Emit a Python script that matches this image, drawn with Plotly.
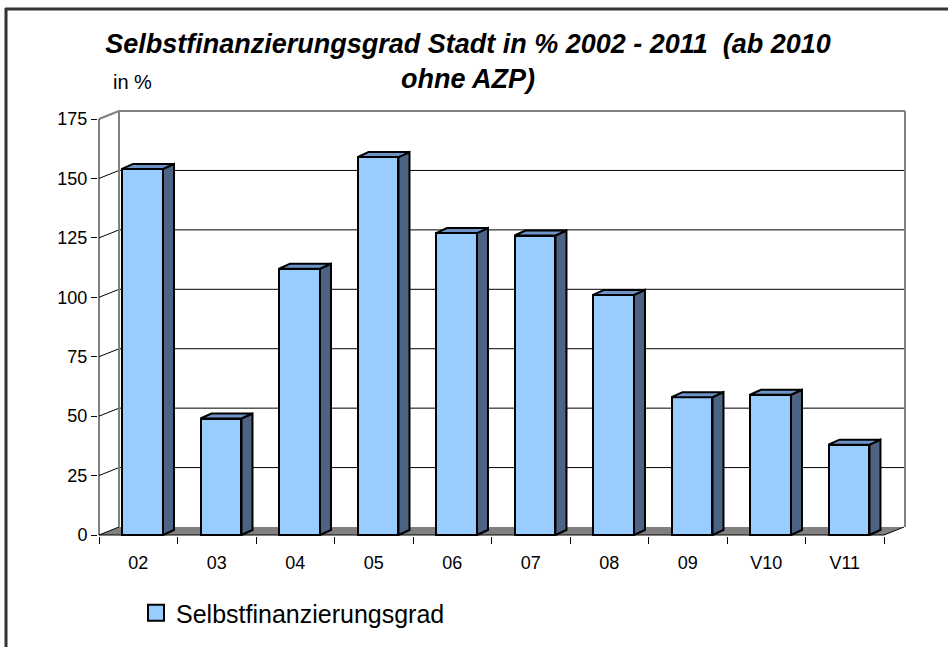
import plotly.graph_objects as go

# ---- data ----
categories = ["02", "03", "04", "05", "06", "07", "08", "09", "V10", "V11"]
values = [154, 49, 112, 159, 127, 126, 101, 58, 59, 38]
y_ticks = [0, 25, 50, 75, 100, 125, 150, 175]
series_name = "Selbstfinanzierungsgrad"
title_text = "Selbstfinanzierungsgrad Stadt in % 2002 - 2011  (ab 2010<br>ohne AZP)"
unit_label = "in %"

# ---- styling / geometry (pixel based) ----
W, H = 948, 647
PPU = 78.5      # px per category unit
PPV = 2.377     # px per value unit
X0PX, Y0PX = 99, 535   # px of origin (front axis)
PL, PR, PT, PB = 98, 907, 109, 536
u_min = (PL - X0PX) / PPU
u_max = (PR - X0PX) / PPU
v_min = (Y0PX - PB) / PPV
v_max = (Y0PX - PT) / PPV

DXW = 20 / PPU   # wall depth offset
DYW = 8 / PPV
DXB = 11 / PPU   # bar depth offset
DYB = 5 / PPV
BAR_L, BAR_R = 0.293, 0.815
BACK_R = (905 - X0PX) / PPU
n = len(categories)

FRONT = "#99CCFF"
SIDE = "#4D6383"
TOP = "#6E93C8"
GRAY = "#808080"
FONT = "Liberation Sans"

def px2paper_x(px):
    return (px - PL) / (PR - PL)

def px2paper_y(py):
    return (PB - py) / (PB - PT)

fig = go.Figure()

centers = [i + (BAR_L + BAR_R) / 2 for i in range(n)]
fig.add_trace(go.Bar(
    x=centers, y=values, width=BAR_R - BAR_L,
    marker=dict(color=FRONT, line=dict(color="black", width=2)),
    showlegend=False, hoverinfo="y", name=series_name,
))

# side faces and top faces computed from the values
sx, sy, tx, ty = [], [], [], []
for i, v in enumerate(values):
    x0, x1 = i + BAR_L, i + BAR_R
    sx += [x1, x1, x1 + DXB, x1 + DXB, x1, None]
    sy += [0, v, v + DYB, DYB, 0, None]
    tx += [x0, x1, x1 + DXB, x0 + DXB, x0, None]
    ty += [v, v, v + DYB, v + DYB, v, None]
fig.add_trace(go.Scatter(x=sx, y=sy, mode="lines", fill="toself", fillcolor=SIDE,
                         line=dict(color="black", width=2), showlegend=False, hoverinfo="skip"))
fig.add_trace(go.Scatter(x=tx, y=ty, mode="lines", fill="toself", fillcolor=TOP,
                         line=dict(color="black", width=2), showlegend=False, hoverinfo="skip"))

# legend entry
fig.add_trace(go.Scatter(x=[None], y=[None], mode="markers", name=series_name,
                         marker=dict(symbol="square", size=16, color=FRONT,
                                     line=dict(color="black", width=2))))

shapes = []
# floor
shapes.append(dict(type="path", xref="x", yref="y", layer="below",
                   path=f"M0,0 L{n},0 L{n+DXW},{DYW} L{DXW},{DYW} Z",
                   fillcolor=GRAY, line=dict(width=0)))
# back wall gridlines and left wall diagonals
for t in y_ticks:
    col = GRAY if t == y_ticks[-1] else "black"
    if 0 < t:
        shapes.append(dict(type="line", xref="x", yref="y", layer="below",
                           x0=DXW, x1=BACK_R, y0=t + DYW, y1=t + DYW,
                           line=dict(color=col, width=2 if t == y_ticks[-1] else 1)))
    shapes.append(dict(type="line", xref="x", yref="y", layer="below",
                       x0=0, x1=DXW, y0=t, y1=t + DYW,
                       line=dict(color=col, width=2 if t == y_ticks[-1] else 1)))
# back wall left / right edges
shapes.append(dict(type="line", xref="x", yref="y", layer="below",
                   x0=DXW, x1=DXW, y0=DYW, y1=y_ticks[-1] + DYW, line=dict(color=GRAY, width=2)))
shapes.append(dict(type="line", xref="x", yref="y", layer="below",
                   x0=BACK_R, x1=BACK_R, y0=DYW, y1=y_ticks[-1] + DYW, line=dict(color=GRAY, width=2)))
# front axes
shapes.append(dict(type="line", xref="x", yref="y", x0=0, x1=0, y0=0, y1=y_ticks[-1],
                   line=dict(color="black", width=1)))
shapes.append(dict(type="line", xref="x", yref="y", x0=0, x1=n, y0=0, y1=0,
                   line=dict(color="black", width=1)))
shapes.append(dict(type="line", xref="x", yref="y", x0=n, x1=n + DXW, y0=0, y1=DYW,
                   line=dict(color="black", width=1)))
# outer border (left and top edges visible in the frame)
shapes.append(dict(type="line", xref="paper", yref="paper",
                   x0=px2paper_x(6), x1=px2paper_x(6), y0=px2paper_y(660), y1=px2paper_y(8),
                   line=dict(color="#333333", width=3)))
shapes.append(dict(type="line", xref="paper", yref="paper",
                   x0=px2paper_x(5), x1=px2paper_x(960), y0=px2paper_y(9), y1=px2paper_y(9),
                   line=dict(color="#333333", width=3)))

fig.update_layout(
    width=W, height=H,
    margin=dict(l=PL, r=W - PR, t=PT, b=H - PB, autoexpand=False),
    paper_bgcolor="white", plot_bgcolor="white",
    shapes=shapes,
    bargap=0,
    title=dict(text=f"<b><i>{title_text}</i></b>", x=468 / W, xanchor="center",
               y=1 - 53 / H, yanchor="top",
               font=dict(family=FONT, size=27, color="black")),
    showlegend=True,
    legend=dict(orientation="h", x=px2paper_x(136), y=px2paper_y(613), yanchor="middle",
                xanchor="left", font=dict(family=FONT, size=25, color="black"),
                bgcolor="rgba(0,0,0,0)"),
    annotations=[dict(text=unit_label, xref="paper", yref="paper",
                      x=px2paper_x(111), y=px2paper_y(82), xanchor="left", yanchor="middle",
                      showarrow=False, font=dict(family=FONT, size=20, color="black"))],
    xaxis=dict(range=[u_min, u_max], tickvals=[i + 0.5 for i in range(n)], ticktext=categories,
               ticks="", showline=False, showgrid=False, zeroline=False,
               ticklabelstandoff=14,
               tickfont=dict(family=FONT, size=18, color="black"),
               minor=dict(tickvals=list(range(n + 1)), ticks="outside", ticklen=7,
                          tickcolor="black", tickwidth=1, showgrid=False),
               fixedrange=True),
    yaxis=dict(range=[v_min, v_max], tickvals=y_ticks, ticks="outside", ticklen=6,
               tickcolor="black", showline=False, showgrid=False, zeroline=False,
               tickfont=dict(family=FONT, size=18, color="black"), fixedrange=True),
)

fig.write_html("out.html", config={"displayModeBar": False},
               post_script="document.body.style.margin='0';")
